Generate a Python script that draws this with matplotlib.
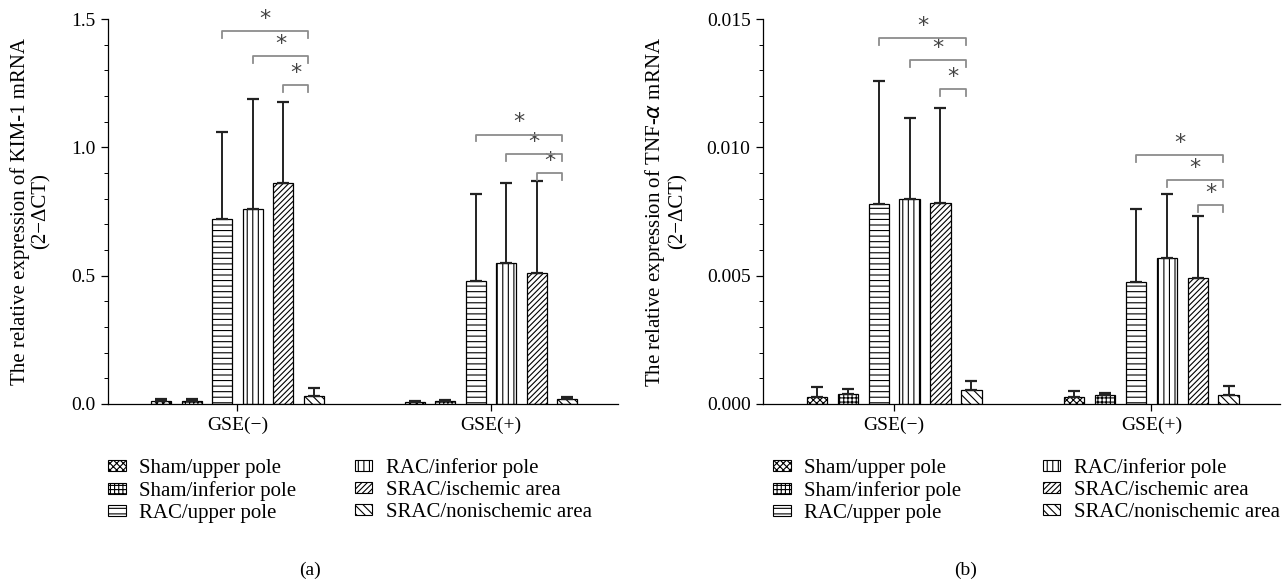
"""KIM-1 and TNF-alpha mRNA expression, GSE(-) vs GSE(+), two-panel bar chart."""

import matplotlib
matplotlib.use("Agg")
import matplotlib.pyplot as plt
from matplotlib.patches import Patch
from matplotlib.ticker import MultipleLocator, FormatStrFormatter
import numpy as np

plt.rcParams["font.family"] = ["Liberation Serif", "DejaVu Serif"]
plt.rcParams["hatch.linewidth"] = 0.8

GROUPS = ["GSE(\u2212)", "GSE(+)"]
SERIES = [
    "Sham/upper pole", "Sham/inferior pole", "RAC/upper pole",
    "RAC/inferior pole", "SRAC/ischemic area", "SRAC/nonischemic area",
]
HATCHES = ["xxxxx", "++++", "---", "|||", "//////", "\\\\\\\\"]

# KIM-1 (panel a): mean and upper SD per series, one list per group
kim1_gse_minus = [0.012, 0.012, 0.72, 0.76, 0.86, 0.032]
kim1_gse_plus = [0.009, 0.011, 0.48, 0.55, 0.51, 0.021]
kim1_sd_minus = [0.008, 0.007, 0.34, 0.43, 0.315, 0.029]
kim1_sd_plus = [0.004, 0.006, 0.34, 0.31, 0.36, 0.007]
# (group, from series, to series, height)
kim1_brackets = [
    (0, 2, 5, 1.453), (0, 3, 5, 1.357), (0, 4, 5, 1.242),
    (1, 2, 5, 1.05), (1, 3, 5, 0.975), (1, 4, 5, 0.90),
]

# TNF-alpha (panel b)
tnf_gse_minus = [0.00029, 0.00038, 0.0078, 0.0080, 0.00785, 0.00053]
tnf_gse_plus = [0.00026, 0.00035, 0.00477, 0.00568, 0.0049, 0.00035]
tnf_sd_minus = [0.00036, 0.00020, 0.0048, 0.00314, 0.00369, 0.00038]
tnf_sd_plus = [0.00026, 0.00009, 0.00284, 0.00251, 0.00241, 0.00034]
tnf_brackets = [
    (0, 2, 5, 0.01427), (0, 3, 5, 0.0134), (0, 4, 5, 0.01228),
    (1, 2, 5, 0.0097), (1, 3, 5, 0.00873), (1, 4, 5, 0.00775),
]

BAR_W = 0.079
STEP = 0.12
FS = 14
FS_LEG = 15


def draw_panel(ax, means, sds, brackets, ymax, major, minor, fmt, ylabel,
               leg_x, colspace):
    offsets = (np.arange(len(SERIES)) - 2.5) * STEP
    x = np.arange(len(GROUPS))
    for i, name in enumerate(SERIES):
        vals = [means[g][i] for g in range(len(GROUPS))]
        errs = [sds[g][i] for g in range(len(GROUPS))]
        ax.bar(x + offsets[i], vals, BAR_W, facecolor="white", edgecolor="black",
               linewidth=0.9, hatch=HATCHES[i], label=name, zorder=2)
        ax.errorbar(x + offsets[i], vals, yerr=[np.zeros(len(vals)), errs],
                    fmt="none", ecolor="#222222", elinewidth=1.4, capsize=4,
                    capthick=1.6, zorder=3)

    arm = ymax * 0.018
    for g, a, b, y in brackets:
        x0 = g + offsets[a]
        x1 = g + offsets[b] - 0.02
        ax.plot([x0, x0, x1, x1], [y - arm, y, y, y - arm], color="#8c8c8c",
                linewidth=1.3, zorder=4)
        ax.annotate("*", ((x0 + x1) / 2, y), xytext=(0, 1.5), textcoords="offset points",
                    ha="center", va="bottom", fontsize=FS + 2, color="#444444",
                    family="DejaVu Sans")

    ax.set_xlim(-0.51, 1.5)
    ax.set_ylim(0, ymax)
    ax.set_xticks(x)
    ax.set_xticklabels(GROUPS, fontsize=FS)
    ax.yaxis.set_major_locator(MultipleLocator(major))
    ax.yaxis.set_minor_locator(MultipleLocator(minor))
    ax.yaxis.set_major_formatter(FormatStrFormatter(fmt))
    ax.tick_params(axis="y", which="major", length=5, width=0.9, labelsize=FS, pad=4)
    ax.tick_params(axis="y", which="minor", length=3, width=0.7)
    ax.tick_params(axis="x", length=5, width=0.9, pad=4)
    for side in ["top", "right"]:
        ax.spines[side].set_visible(False)
    for side in ["left", "bottom"]:
        ax.spines[side].set_linewidth(0.9)
    ax.set_ylabel(ylabel, fontsize=FS_LEG, linespacing=1.1)

    handles = [Patch(facecolor="white", edgecolor="black", linewidth=0.8,
                     hatch=HATCHES[i], label=SERIES[i]) for i in range(len(SERIES))]
    ax.legend(handles=handles, loc="upper left", bbox_to_anchor=(leg_x, -0.14),
              ncol=2, frameon=False, fontsize=FS_LEG, handlelength=0.85,
              handleheight=0.45, handletextpad=0.65, columnspacing=colspace,
              labelspacing=0.14, borderaxespad=0, borderpad=0)


fig = plt.figure(figsize=(12.88, 5.79), dpi=100)
ax_a = fig.add_axes([108 / 1288, 175 / 579, 510 / 1288, 385 / 579])
ax_b = fig.add_axes([763 / 1288, 175 / 579, 517 / 1288, 385 / 579])

draw_panel(ax_a, [kim1_gse_minus, kim1_gse_plus], [kim1_sd_minus, kim1_sd_plus],
           kim1_brackets, 1.5, 0.5, 0.1, "%.1f",
           "The relative expression of KIM-1 mRNA\n(2\u2212\u0394CT)", 0.0, 2.8)
draw_panel(ax_b, [tnf_gse_minus, tnf_gse_plus], [tnf_sd_minus, tnf_sd_plus],
           tnf_brackets, 0.015, 0.005, 0.001, "%.3f",
           "The relative expression of TNF-$\\alpha$ mRNA\n(2\u2212\u0394CT)",
           10 / 517, 3.9)
ax_a.yaxis.set_label_coords(-57 / 510, 0.5)
ax_b.yaxis.set_label_coords(-75 / 517, 0.5)

fig.text(310 / 1288, 1 - 570 / 579, "(a)", ha="center", va="center", fontsize=FS)
fig.text(966 / 1288, 1 - 570 / 579, "(b)", ha="center", va="center", fontsize=FS)

fig.savefig("out.png", dpi=100)
plt.close(fig)
